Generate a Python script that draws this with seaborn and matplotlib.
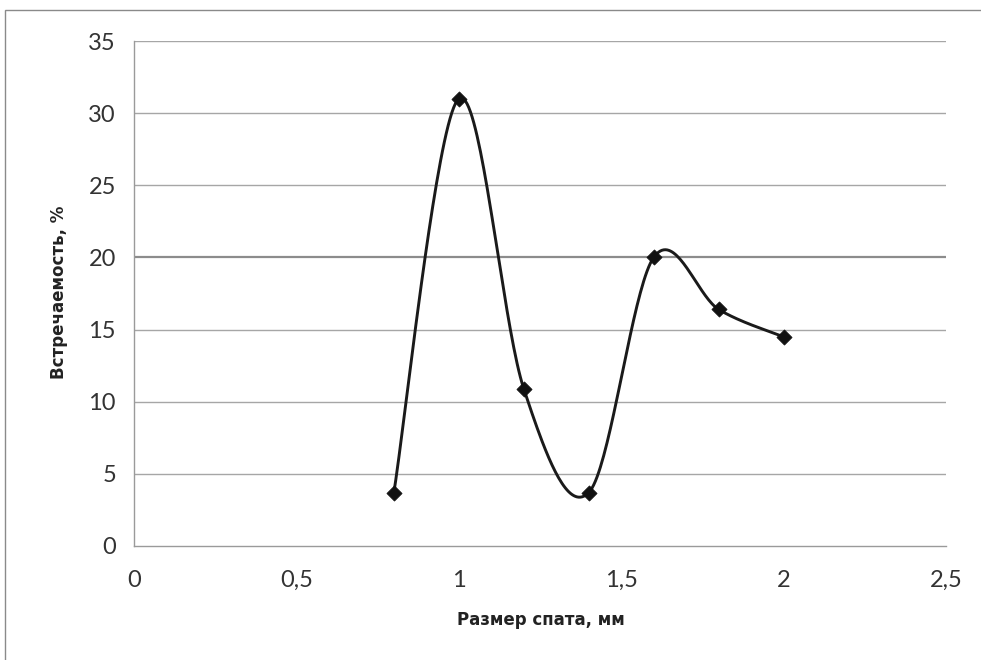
import numpy as np
import pandas as pd
import matplotlib
matplotlib.use("Agg")
import matplotlib.pyplot as plt
from matplotlib.patches import Rectangle
from matplotlib.ticker import FuncFormatter, MultipleLocator
import seaborn as sns

# Spat size (mm) and occurrence (%)
sizes = [0.8, 1.0, 1.2, 1.4, 1.6, 1.8, 2.0]
occurrence = [3.7, 31.0, 10.9, 3.7, 20.0, 16.4, 14.5]

x_label = "Размер спата, мм"
y_label = "Встречаемость, %"


def smooth_curve(xs, ys, steps=40):
    """Catmull-Rom style Bezier smoothing between consecutive points."""
    pts = np.column_stack([xs, ys]).astype(float)
    padded = np.vstack([pts[0], pts, pts[-1]])
    out = []
    t = np.linspace(0, 1, steps)[:, None]
    for i in range(1, len(padded) - 2):
        p0, p1, p2, p3 = padded[i - 1], padded[i], padded[i + 1], padded[i + 2]
        c1 = p1 + (p2 - p0) / 6.0
        c2 = p2 - (p3 - p1) / 6.0
        seg = ((1 - t) ** 3) * p1 + 3 * ((1 - t) ** 2) * t * c1 + 3 * (1 - t) * t ** 2 * c2 + t ** 3 * p2
        out.append(seg if i == 1 else seg[1:])
    return np.vstack(out)


sns.set_theme(style="white")
plt.rcParams["font.family"] = ["Lato", "DejaVu Sans"]

fig = plt.figure(figsize=(9.81, 6.6), dpi=100)
ax = fig.add_axes([134 / 981, 1 - 546 / 660, (946 - 134) / 981, (546 - 41) / 660])

curve = smooth_curve(sizes, occurrence)
curve_df = pd.DataFrame({"x": curve[:, 0], "y": curve[:, 1], "i": np.arange(len(curve))})
points_df = pd.DataFrame({"x": sizes, "y": occurrence})

sns.lineplot(data=curve_df, x="x", y="y", sort=False, color="#1a1a1a", linewidth=2.1,
             estimator=None, ax=ax, zorder=3)
sns.scatterplot(data=points_df, x="x", y="y", marker="D", s=60, color="#111111",
                edgecolor="#111111", linewidth=0.5, ax=ax, zorder=4)

ax.set_xlim(0, 2.5)
ax.set_ylim(0, 35)
ax.xaxis.set_major_locator(MultipleLocator(0.5))
ax.yaxis.set_major_locator(MultipleLocator(5))
fmt = FuncFormatter(lambda v, p: ("%g" % v).replace(".", ","))
ax.xaxis.set_major_formatter(fmt)
ax.yaxis.set_major_formatter(fmt)

# horizontal gridlines
for yv in range(5, 36, 5):
    if yv == 20:
        ax.axhline(yv, color="#8c8c8c", linewidth=1.6, zorder=1)
    else:
        ax.axhline(yv, color="#a6a6a6", linewidth=1.0, zorder=1)

for side in ["top", "right"]:
    ax.spines[side].set_visible(False)
for side in ["left", "bottom"]:
    ax.spines[side].set_color("#9a9a9a")
    ax.spines[side].set_linewidth(1.0)

ax.tick_params(axis="both", which="major", direction="out", length=6, width=1.0,
               color="#9a9a9a", labelsize=17, labelcolor="#333333", pad=7)
ax.tick_params(axis="x", pad=11)
ax.set_xlabel("")
ax.set_ylabel("")

label_font = ["Liberation Sans Narrow", "DejaVu Sans"]
fig.text(541 / 981, 1 - 620 / 660, x_label, ha="center", va="center", fontsize=12,
         fontweight="bold", color="#222222", family=label_font)
fig.text(59 / 981, 1 - 292 / 660, y_label, ha="center", va="center", rotation=90,
         fontsize=12, fontweight="bold", color="#222222", family=label_font)

# chart area frame
fig.patches.append(Rectangle((5 / 981, -0.02), 1.05, 1 - 10 / 660 + 0.02,
                             transform=fig.transFigure, fill=False,
                             edgecolor="#8a8a8a", linewidth=1.0))

fig.savefig("out.png", dpi=100)
